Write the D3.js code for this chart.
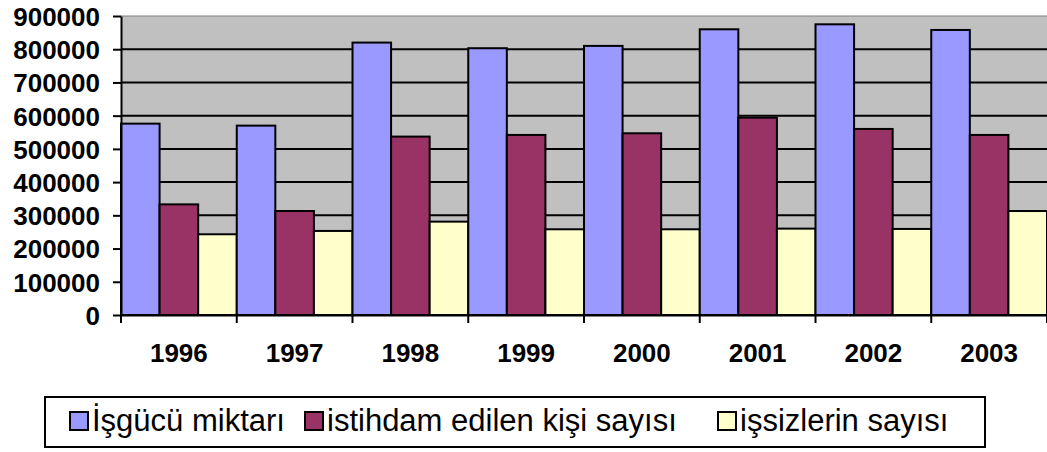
<!DOCTYPE html>
<meta charset="utf-8">
<style>
body { margin: 0; background: #fff; }
svg { display: block; font-family: "Liberation Sans", Arial, sans-serif; }
.axis text { font-size: 26px; font-weight: bold; fill: #000; }
.axis path, .axis line { stroke: #000; stroke-width: 2px; }
.legend text { font-size: 31px; fill: #000; }
</style>
<body>
<svg width="1047" height="452"></svg>
<script src="https://d3js.org/d3.v7.min.js"></script>
<script>

var years = ["1996", "1997", "1998", "1999", "2000", "2001", "2002", "2003"];
var isgucu = [576000, 570000, 820000, 803000, 810000, 860000, 875000, 858000];
var istihdam = [333000, 313000, 537000, 542000, 547000, 594000, 560000, 542000];
var issiz = [243000, 253000, 281000, 258000, 258000, 260000, 259000, 313000];
var seriesNames = ["İşgücü miktarı", "istihdam edilen kişi sayısı", "işsizlerin sayısı"];
var colors = ["#9999ff", "#993366", "#ffffcc"];
var yTicks = [0, 100000, 200000, 300000, 400000, 500000, 600000, 700000, 800000, 900000];

var svg = d3.select("svg"),
    plotLeft = 121, plotRight = 1047, plotTop = 16, plotBottom = 315;

var x = d3.scaleBand().domain(years).range([plotLeft, plotRight]).padding(0);
var x1 = d3.scaleBand().domain([0, 1, 2]).range([0, x.bandwidth()]).padding(0);
var y = d3.scaleLinear().domain([0, 900000]).range([plotBottom, plotTop]);

var series = [isgucu, istihdam, issiz];
var rows = years.map(function(yr, i) {
  return { year: yr, values: series.map(function(s, k) { return { k: k, v: s[i] }; }) };
});

// plot background
svg.append("rect")
    .attr("x", plotLeft).attr("y", y(900000))
    .attr("width", plotRight - plotLeft).attr("height", y(0) - y(900000))
    .attr("fill", "#c0c0c0");

// gridlines
svg.append("g").selectAll("line")
  .data(yTicks.filter(function(d) { return d > 0; }))
  .enter().append("line")
    .attr("x1", plotLeft).attr("x2", plotRight)
    .attr("y1", function(d) { return y(d); })
    .attr("y2", function(d) { return y(d); })
    .attr("stroke", function(d) { return d === 900000 ? "#808080" : "#000"; })
    .attr("stroke-width", function(d) { return d === 900000 ? 1 : 2; });

// bars
svg.append("g").selectAll("g")
  .data(rows)
  .enter().append("g")
    .attr("transform", function(d) { return "translate(" + x(d.year) + ",0)"; })
  .selectAll("rect")
  .data(function(d) { return d.values; })
  .enter().append("rect")
    .attr("x", function(d) { return x1(d.k); })
    .attr("y", function(d) { return y(d.v); })
    .attr("width", x1.bandwidth())
    .attr("height", function(d) { return y(0) - y(d.v); })
    .attr("fill", function(d) { return colors[d.k]; })
    .attr("stroke", "#000")
    .attr("stroke-width", 2);

// y axis
svg.append("g")
    .attr("class", "axis")
    .attr("transform", "translate(" + plotLeft + ",0)")
    .call(d3.axisLeft(y).tickValues(yTicks).tickSize(8).tickSizeOuter(0)
      .tickPadding(13).tickFormat(d3.format("d")))
    .selectAll("text").attr("dy", "0.36em");

// x axis: labels centred, ticks on category boundaries
var xAxis = svg.append("g")
    .attr("class", "axis")
    .attr("transform", "translate(0," + plotBottom + ")")
    .call(d3.axisBottom(x).tickSize(0).tickSizeOuter(0).tickPadding(29));
xAxis.selectAll(".tick line").remove();
xAxis.selectAll("text").attr("dy", "0.71em");
xAxis.selectAll(".bound")
  .data(years.map(function(d) { return x(d); }).concat([plotRight]))
  .enter().append("line")
    .attr("x1", function(d) { return d; }).attr("x2", function(d) { return d; })
    .attr("y1", 0).attr("y2", 8);

// legend
var legendX = [70, 305, 718];
var legend = svg.append("g").attr("class", "legend");
legend.append("rect")
    .attr("x", 45).attr("y", 397).attr("width", 940).attr("height", 50)
    .attr("fill", "#fff").attr("stroke", "#000").attr("stroke-width", 2);
var items = legend.selectAll("g.item")
  .data(seriesNames)
  .enter().append("g").attr("class", "item")
    .attr("transform", function(d, i) { return "translate(" + legendX[i] + ",0)"; });
items.append("rect")
    .attr("y", 412).attr("width", 18).attr("height", 18)
    .attr("fill", function(d, i) { return colors[i]; })
    .attr("stroke", "#000").attr("stroke-width", 2);
items.append("text")
    .attr("x", 22).attr("y", 431)
    .text(function(d) { return d; });

</script>
</body>
